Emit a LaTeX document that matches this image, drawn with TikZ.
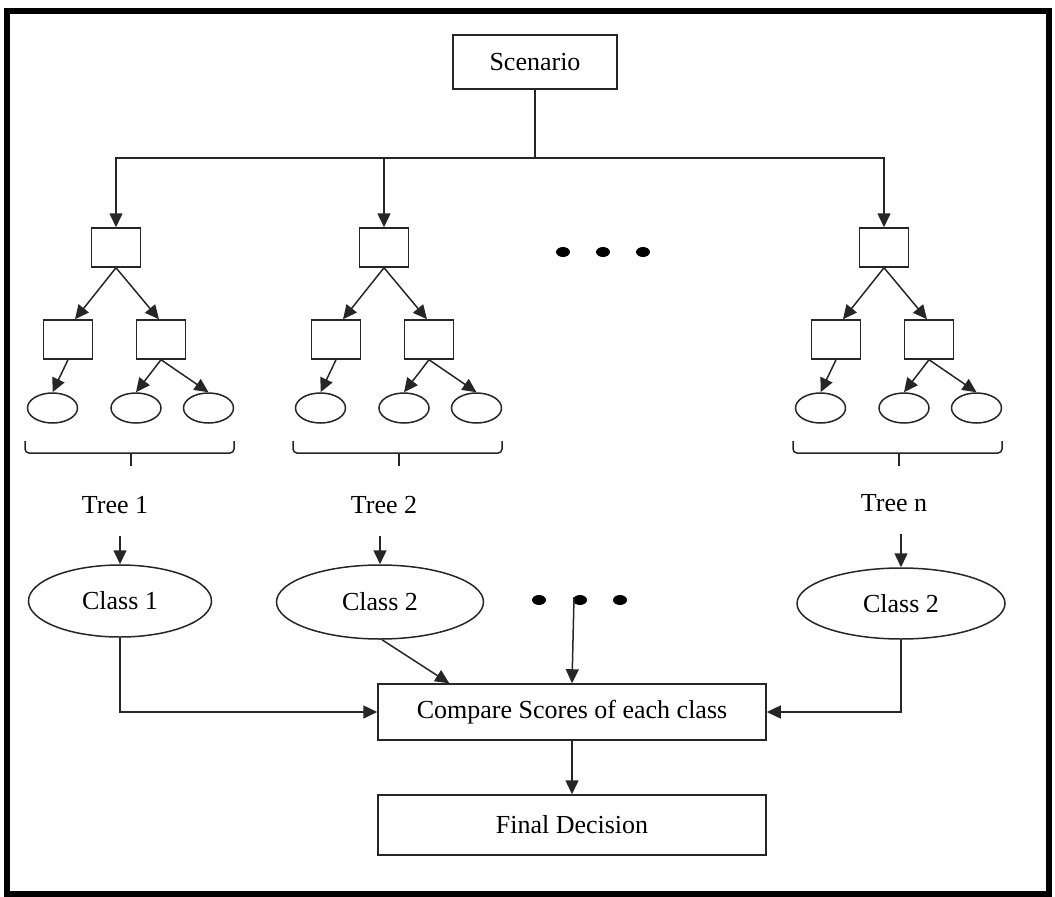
\documentclass[tikz,border=0pt]{standalone}
\usepackage{fontspec}
\setmainfont{Liberation Serif}
\usetikzlibrary{arrows.meta,calc,shapes.geometric}

% one decision tree: root, two inner boxes, three leaves and a brace
\newcommand\rftree[2]{%
  \node[sbox] (#1r) at (#2,247.5) {};
  \node[sbox] (#1a) at ({#2-48},339.5) {};
  \node[sbox] (#1b) at ({#2+45},339.5) {};
  \node[leaf] (#1x) at ({#2-63.5},408) {};
  \node[leaf] (#1y) at ({#2+20},408) {};
  \node[leaf] (#1z) at ({#2+92.5},408) {};
  \draw[arr] (#1r.south) -- ($(#1a.north)+(7,0)$);
  \draw[arr] (#1r.south) -- ($(#1b.north)+(-2,0)$);
  \draw[arr] (#1a.south) -- (#1x.north);
  \draw[arr] (#1b.south) -- (#1y.north);
  \draw[arr] (#1b.south) -- (#1z.north);
  \draw[line, rounded corners=4pt] ({#2-91},441) |- ({#2+118},453) -- ({#2+118},441);
  \draw[line] ({#2+15},453) -- ({#2+15},466);
}

\begin{document}
\begin{tikzpicture}[x=1pt, y=-1pt,
  every node/.style={font=\fontsize{26}{30}\selectfont},
  line/.style={line width=1.5pt, draw=black!85},
  arr/.style={line, -{Triangle[length=14pt,width=13pt]}},
  sbox/.style={draw=black!85, line width=1.5pt, minimum width=49pt, minimum height=39pt, inner sep=0pt},
  leaf/.style={ellipse, draw=black!85, line width=1.5pt, minimum width=50pt, minimum height=30pt, inner sep=0pt},
  wide/.style={draw=black!85, line width=1.5pt, minimum width=388pt, inner sep=0pt},
  cls/.style={ellipse, draw=black!85, line width=1.5pt, inner sep=0pt},
  dot/.style={ellipse, fill=black, minimum width=14pt, minimum height=10pt, inner sep=0pt}
]
\useasboundingbox (0,0) rectangle (1055,897);
\draw[line width=6pt] (7,11) rectangle (1049,894);

% root of the forest
\node[draw=black!85, line width=1.5pt, minimum width=164pt, minimum height=54pt, inner sep=0pt] (scen) at (535,62) {Scenario};
\coordinate (split) at (535,158);
\draw[line] (scen.south) -- (split);

% the trees
\rftree{ta}{116}
\rftree{tb}{384}
\rftree{tn}{884}
\draw[arr] (split) -| (tar.north);
\draw[arr] (split) -| (tbr.north);
\draw[arr] (split) -| (tnr.north);

% ellipsis between the trees
\node[dot] (u1) at (563,252) {};
\node[dot] (u2) at (603,252) {};
\node[dot] (u3) at (643,252) {};

% tree names
\node (la) at (115,505) {Tree 1};
\node (lb) at (384,505) {Tree 2};
\node (ln) at (894,503) {Tree n};

% votes of the trees
\node[cls, minimum width=183pt, minimum height=72pt] (ca) at (120,601) {Class 1};
\node[cls, minimum width=207pt, minimum height=74pt] (cb) at (380,602) {Class 2};
\node[cls, minimum width=208pt, minimum height=71pt] (cn) at (901,603.5) {Class 2};
\draw[arr] ($(ca.north)+(0,-28)$) -- (ca.north);
\draw[arr] ($(cb.north)+(0,-28)$) -- (cb.north);
\draw[arr] ($(cn.north)+(0,-33)$) -- (cn.north);

\node[dot] (v1) at (539,600) {};
\node[dot] (v2) at (580,600) {};
\node[dot] (v3) at (620,600) {};

% aggregation
\node[wide, minimum height=56pt] (cmp) at (572,712) {Compare Scores of each class};
\node[wide, minimum height=60pt] (fin) at (572,825) {Final Decision};

\draw[arr] (ca.south) |- (cmp.west);
\draw[arr] (cn.south) |- (cmp.east);
\draw[arr] ($(cb.south)+(2,0)$) -- ($(cmp.north west)+(72,0)$);
\draw[arr] ($(v2.south)+(-6,-8)$) -- (cmp.north);
\draw[arr] (cmp.south) -- (fin.north);
\end{tikzpicture}
\end{document}
